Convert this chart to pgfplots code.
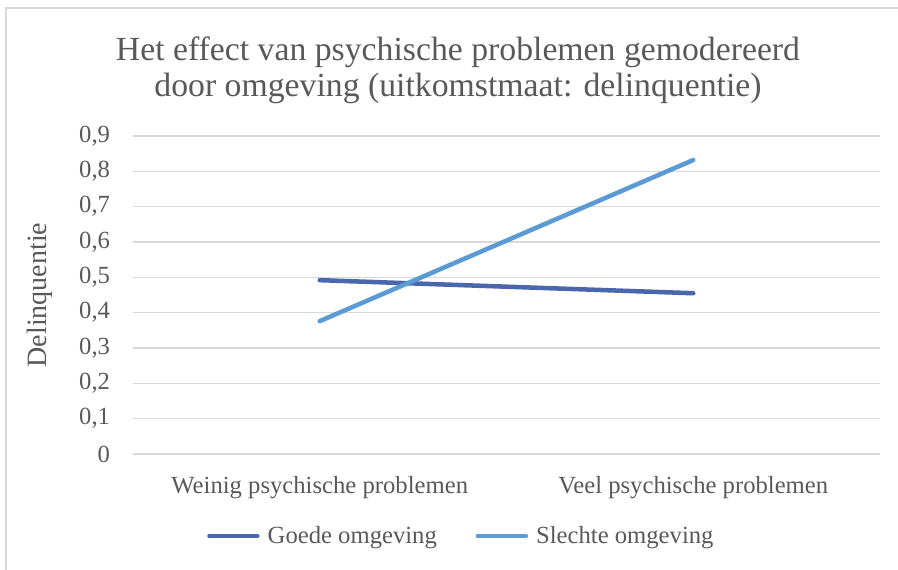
\documentclass[border=0pt]{standalone}
\usepackage{pgfplots}
\pgfplotsset{compat=1.18}
\usepackage{fontspec}
\setmainfont{Liberation Serif}
\definecolor{txt}{HTML}{595959}
\definecolor{grd}{HTML}{D9D9D9}
\definecolor{goede}{HTML}{4A66AC}
\definecolor{slechte}{HTML}{5B9BD5}
\begin{document}
\begin{tikzpicture}[x=0.75pt,y=0.75pt]
\useasboundingbox (0,0) rectangle (898,570);
\draw[grd, line width=1pt] (6,0) -- (6,562) -- (898,562);
\node[txt, align=center, font=\fontsize{25.3}{27}\selectfont] at (458,500) {Het effect van psychische problemen gemodereerd\\door omgeving (uitkomstmaat: delinquentie)};
\begin{axis}[
  at={(133pt*0.75,116pt*0.75)}, anchor=south west,
  scale only axis, width=560.25pt, height=238.5pt,
  xmin=0, xmax=2, ymin=0, ymax=0.9,
  xtick={0.5,1.5},
  xticklabels={Weinig psychische problemen, Veel psychische problemen},
  ytick={0,0.1,...,0.9},
  major tick length=0,
  ymajorgrids, grid style={grd, line width=1pt},
  axis lines*=left,
  x axis line style={grd, line width=1pt, -},
  y axis line style={draw=none},
  /pgf/number format/assume math mode=true,
  /pgf/number format/use comma,
  /pgf/number format/fixed,
  yticklabel style={txt, font=\fontsize{18.5}{21}\selectfont, inner sep=0pt, anchor=east, xshift=-17pt},
  xticklabel style={txt, font=\fontsize{18.5}{21}\selectfont, inner sep=0pt, anchor=base, yshift=-30pt},
  ylabel={Delinquentie},
  every axis y label/.style={at={(axis description cs:-0.1245,0.5)}, rotate=90, anchor=center,
    txt, font=\fontsize{21}{23}\selectfont, inner sep=0pt},
  legend columns=2,
  legend style={draw=none, fill=none, at={(axis description cs:0.44,-0.258)}, anchor=center,
    font=\fontsize{18.5}{21}\selectfont, text=txt, inner sep=0pt,
    /tikz/every odd column/.append style={column sep=4pt},
    /tikz/every even column/.append style={column sep=27pt}},
  legend image code/.code={\draw[#1, line cap=round] (0pt,0pt) -- (36pt,0pt);},
  clip=false,
]
\addplot[goede, line width=3.4pt, line cap=round] coordinates {(0.5,0.492) (1.5,0.455)};
\addlegendentry{Goede omgeving}
\addplot[slechte, line width=3.4pt, line cap=round] coordinates {(0.5,0.376) (1.5,0.832)};
\addlegendentry{Slechte omgeving}
\end{axis}
\end{tikzpicture}
\end{document}
